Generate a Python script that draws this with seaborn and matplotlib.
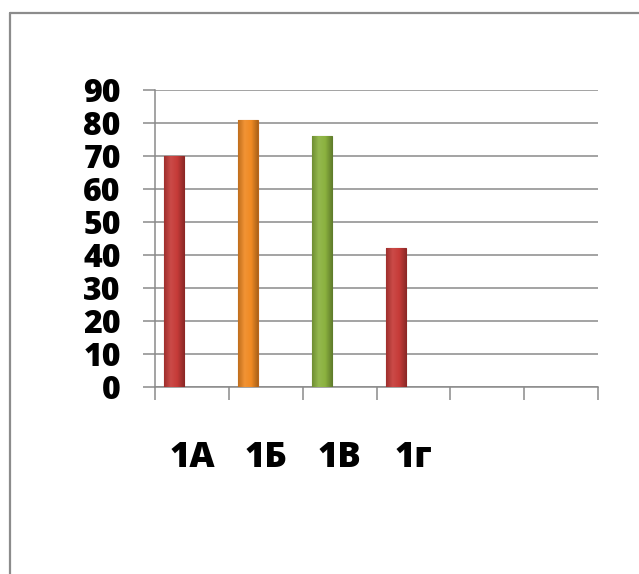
import matplotlib
matplotlib.use("Agg")
import numpy as np
import matplotlib.pyplot as plt
from matplotlib.lines import Line2D
from matplotlib.ticker import FixedLocator
from matplotlib.colors import LinearSegmentedColormap, to_rgb
import seaborn as sns

# ── Data ───────────────────────────────────────────────────────
classes = ["1А", "1Б", "1В", "1г"]
values = [70, 81, 76, 42]
bar_colors = ["#C63B38", "#F08A23", "#8BB23F", "#C63B38"]
edge_colors = ["#8E2624", "#B8641A", "#5F7D2B", "#8E2624"]
y_ticks = [0, 10, 20, 30, 40, 50, 60, 70, 80, 90]
n_slots = 6

sns.set_theme(style="white")
plt.rcParams["font.family"] = ["Open Sans", "DejaVu Sans"]

fig = plt.figure(figsize=(6.39, 5.74), dpi=100)
ax = fig.add_axes([155 / 639, 1 - 387 / 574, (598 - 155) / 639, (387 - 90) / 574])

sns.barplot(x=classes, y=values, hue=classes, palette=bar_colors,
            legend=False, width=0.27, saturation=1, ax=ax)


def shade(c, f):
    r, g, b = to_rgb(c)
    if f >= 1:
        return (r + (1 - r) * (f - 1), g + (1 - g) * (f - 1), b + (1 - b) * (f - 1))
    return (r * f, g * f, b * f)


# bars sit left of the slot centre, like the original clustered chart
for patch, c, ec in zip(ax.patches, bar_colors, edge_colors):
    patch.set_x(patch.get_x() - 0.24)
    patch.set_edgecolor(ec)
    patch.set_linewidth(0.8)
    patch.set_zorder(3)
    # soft cylinder-like shading across the bar
    cmap = LinearSegmentedColormap.from_list(
        "bar", [shade(c, 0.8), shade(c, 1.08), c, shade(c, 0.72)])
    x0, w, h = patch.get_x(), patch.get_width(), patch.get_height()
    grad = np.linspace(0, 1, 64).reshape(1, -1)
    img = ax.imshow(grad, cmap=cmap, aspect="auto", zorder=3.5,
                    extent=(x0, x0 + w, 0, h), interpolation="bilinear")
    img.set_clip_path(patch)

ax.set_xlim(-0.5, n_slots - 0.5)
ax.set_ylim(0, 90)
ax.set_yticks(y_ticks)
ax.set_yticklabels([str(v) for v in y_ticks], fontsize=23, fontweight="heavy")

ax.set_xticks(range(len(classes)))
ax.set_xticklabels(classes, fontsize=25, fontweight="heavy")
ax.xaxis.set_minor_locator(FixedLocator([i - 0.5 for i in range(n_slots + 1)]))

grid_col = "#8A8A8A"
ax.yaxis.grid(True, color=grid_col, linewidth=1.1, zorder=0)
ax.set_axisbelow(True)
ax.tick_params(axis="y", which="major", length=8.6, width=1.1, color=grid_col,
               pad=16, left=True, labelcolor="black")
ax.tick_params(axis="x", which="major", length=0, pad=38, labelcolor="black")
ax.tick_params(axis="x", which="minor", length=9.5, width=1.1, color=grid_col,
               bottom=True, direction="out")

for side in ["top", "right"]:
    ax.spines[side].set_visible(False)
for side in ["left", "bottom"]:
    ax.spines[side].set_color(grid_col)
    ax.spines[side].set_linewidth(1.1)
ax.set_xlabel("")
ax.set_ylabel("")

# outer frame (only top and left edges visible in the original)
fx, fy = 9.5 / 639, 1 - 12.5 / 574
fig.add_artist(Line2D([fx, 1], [fy, fy], transform=fig.transFigure,
                      color="#8C8C8C", linewidth=1.6))
fig.add_artist(Line2D([fx, fx], [0, fy], transform=fig.transFigure,
                      color="#8C8C8C", linewidth=1.6))

fig.savefig("out.png", dpi=100, facecolor="white")
